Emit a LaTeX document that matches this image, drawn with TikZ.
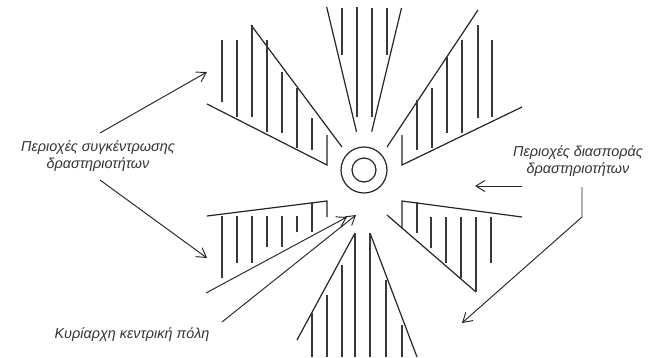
\documentclass[tikz,border=0pt]{standalone}
\usepackage{fontspec}
\setmainfont{Liberation Sans}
\usetikzlibrary{arrows.meta}
\begin{document}
\begin{tikzpicture}[x=1pt,y=-1pt,
  ln/.style={line width=1.2pt, draw=black!85},
  hatch/.style={line width=1.05pt, draw=black!78},
  arr/.style={line width=0.95pt, draw=black!85, -{Straight Barb[length=9pt,width=11pt,line width=0.95pt]}},
  lab/.style={font=\itshape\fontsize{14.4}{16.5}\selectfont, text=black!80, align=center, inner sep=0pt}]
\useasboundingbox[fill=white] (0,0) rectangle (651,357);

% central city
\coordinate (c) at (364,170);
\draw[ln] (c) circle[radius=23];
\draw[ln] (c) circle[radius=12];

% top fan
\draw[ln] (326.7,7) -- (356.5,131.7);
\draw[ln] (401.5,8) -- (371.7,131.7);
\foreach \x/\a/\b in {342/8/55, 357/7/117, 372/8/117, 387/8/55}
  \draw[hatch] (\x,\a) -- (\x,\b);

% top-left wedge
\draw[ln] (251,25) -- (342,147);
\draw[ln] (207,104) -- (327,165) -- (327,135);
\foreach \x/\a/\b in {222/40/102, 237/40/117, 252/25/117, 267/40/132, 282/72/133, 297/88/148, 312/118/150}
  \draw[hatch] (\x,\a) -- (\x,\b);

% top-right wedge
\draw[ln] (387,147) -- (478,10);
\draw[ln] (402,135) -- (402,165) -- (522,107);
\foreach \x/\a/\b in {417/100/150, 432/88/148, 447/57/133, 462/40/133, 478/25/118, 492/40/117}
  \draw[hatch] (\x,\a) -- (\x,\b);

% bottom-left wedge
\draw[ln] (207,216) -- (327,201) -- (327,217);
\foreach \x/\a/\b in {222/216/278, 237/216/263, 252/216/263, 267/216/247, 282/216/247, 297/216/232, 312/202/232}
  \draw[hatch] (\x,\a) -- (\x,\b);

% bottom-right wedge
\draw[ln] (387,215) -- (476,292);
\draw[ln] (402,228) -- (402,201) -- (522,217);
\foreach \x/\a/\b in {417/202/233, 431/217/248, 446/217/263, 461/217/278, 476/217/292, 491/217/263}
  \draw[hatch] (\x,\a) -- (\x,\b);

% bottom fan
\draw[ln] (355,233) -- (297,340);
\draw[ln] (370,233) -- (417,357);
\foreach \x/\a in {312/313, 327/295, 342/265, 355/233, 370/233, 386/280, 402/325}
  \draw[hatch] (\x,\a) -- (\x,357);

% labels
\node[lab] (conc) at (98,156) {Περιοχές συγκέντρωσης\\δραστηριοτήτων};
\node[lab] (disp) at (578,161) {Περιοχές διασποράς\\δραστηριοτήτων};
\node[lab] (city) at (132,335) {Κυρίαρχη κεντρική πόλη};

% arrow end points
\coordinate (cA) at (100,133);
\coordinate (cB) at (100,180);
\coordinate (tA) at (207,72);
\coordinate (tB) at (207,258);
\coordinate (dA) at (522,186);
\coordinate (dAt) at (475,186);
\coordinate (dB) at (582,187);
\coordinate (dBk) at (582,217);
\coordinate (dBt) at (462,323);
\coordinate (kA) at (206,293);
\coordinate (kB) at (222,322);
\coordinate (kAt) at (347,217);
\coordinate (kBt) at (356,215);

\draw[arr] (cA) -- (tA);
\draw[arr] (cB) -- (tB);
\draw[arr] (dA) -- (dAt);
\draw[arr] (dB) -- (dBk) -- (dBt);
\draw[arr] (kA) -- (kAt);
\draw[arr] (kB) -- (kBt);
\end{tikzpicture}
\end{document}
